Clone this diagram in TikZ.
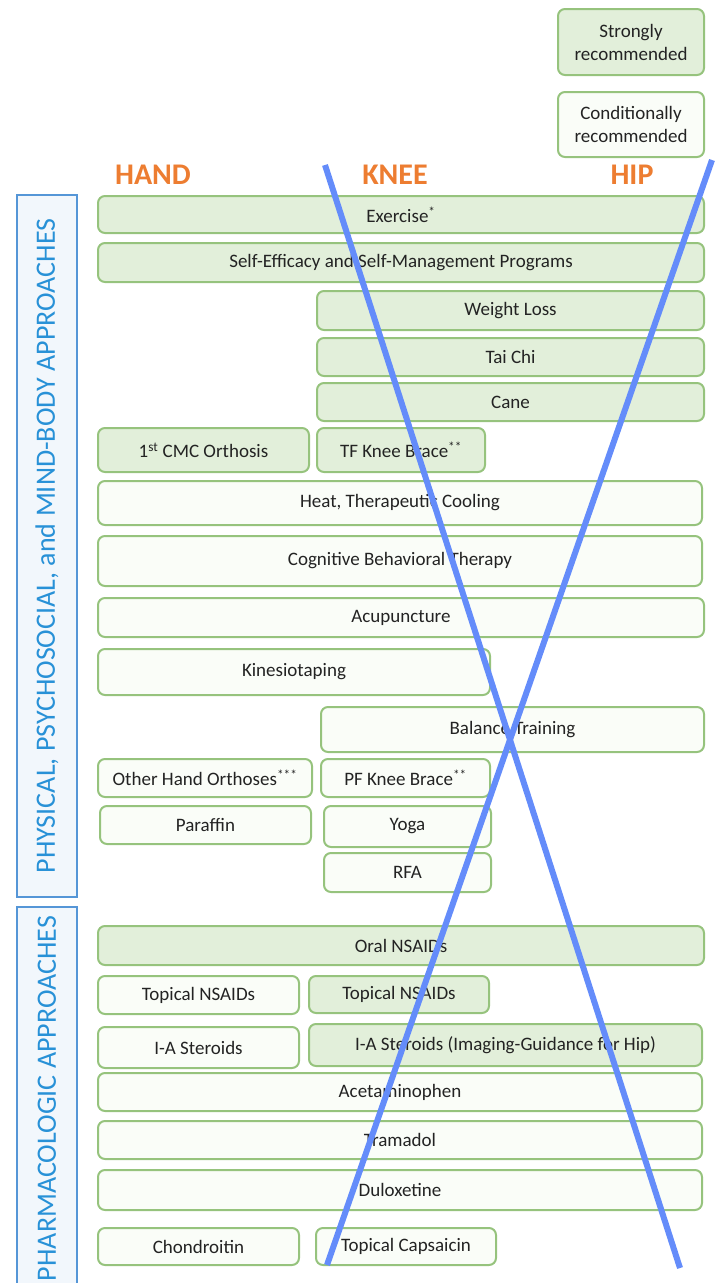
\documentclass[tikz,border=0pt]{standalone}
\usepackage{fontspec}
\setmainfont{Carlito}
\usepackage{tikz}
\definecolor{strongfill}{RGB}{226,239,218}
\definecolor{condfill}{RGB}{250,253,248}
\definecolor{boxline}{RGB}{150,195,125}
\definecolor{jointorange}{RGB}{237,125,49}
\definecolor{sideblue}{RGB}{85,150,215}
\definecolor{sidetext}{RGB}{40,145,215}
\definecolor{sidefill}{RGB}{242,247,252}
\definecolor{crossblue}{RGB}{100,140,250}
\definecolor{labelgray}{RGB}{35,35,35}

\begin{document}
\begin{tikzpicture}[x=1pt, y=-1pt,
    recbox/.style={draw=boxline, line width=2pt, rounded corners=7pt,
        inner sep=0pt, text=labelgray, align=center,
        font=\fontsize{19}{23}\selectfont},
    strongbox/.style={recbox, fill=strongfill},
    condbox/.style={recbox, fill=condfill},
    joint/.style={text=jointorange, font=\fontsize{30}{32}\selectfont\bfseries},
    sidebox/.style={draw=sideblue, fill=sidefill, line width=2pt, rotate=90,
        inner sep=0pt, text=sidetext, font=\fontsize{28}{30}\selectfont}]
    \useasboundingbox (0,0) rectangle (716,1283);
    \clip (0,0) rectangle (716,1283);

    % Legend
    \node[strongbox, minimum width=146pt, minimum height=66pt] (legstrong)
        at (631,42) {Strongly\\recommended};
    \node[condbox, minimum width=146pt, minimum height=65pt] (legcond)
        at (631,124.5) {Conditionally\\recommended};

    % Joints
    \node[joint] (hand) at (153,175) {HAND};
    \node[joint] (knee) at (395,175) {KNEE};
    \node[joint] (hip)  at (632,175) {HIP};

    % Side bands
    \node[sidebox, minimum width=702pt, minimum height=60pt] (physical)
        at (47,546) {PHYSICAL, PSYCHOSOCIAL, and MIND-BODY APPROACHES};
    \node[sidebox, minimum width=383pt, minimum height=60pt] (pharma)
        at (47,1098.5) {PHARMACOLOGIC APPROACHES};

    % Physical, psychosocial and mind-body
    \node[strongbox, minimum width=606pt, minimum height=37pt] (exercise)
        at (401,214.5) {Exercise\textsuperscript{*}};
    \node[strongbox, minimum width=606pt, minimum height=39pt] (selfeff)
        at (401,262.5) {Self-Efficacy and Self-Management Programs};
    \node[strongbox, minimum width=387pt, minimum height=39pt] (weight)
        at (510.5,310.5) {Weight Loss};
    \node[strongbox, minimum width=387pt, minimum height=38pt] (taichi)
        at (510.5,357) {Tai Chi};
    \node[strongbox, minimum width=387pt, minimum height=38pt] (cane)
        at (510.5,402) {Cane};
    \node[strongbox, minimum width=211pt, minimum height=44pt] (cmc)
        at (203.5,450) {1\textsuperscript{st} CMC Orthosis};
    \node[strongbox, minimum width=168pt, minimum height=44pt] (tfbrace)
        at (401,450) {TF Knee Brace\textsuperscript{**}};
    \node[condbox, minimum width=604pt, minimum height=44pt] (heat)
        at (400,503) {Heat, Therapeutic Cooling};
    \node[condbox, minimum width=604pt, minimum height=50pt] (cbt)
        at (400,561) {Cognitive Behavioral Therapy};
    \node[condbox, minimum width=606pt, minimum height=39pt] (acupuncture)
        at (401,617.5) {Acupuncture};
    \node[condbox, minimum width=392pt, minimum height=46pt] (kinesio)
        at (294,672) {Kinesiotaping};
    \node[condbox, minimum width=383pt, minimum height=45pt] (balance)
        at (512.5,729.5) {Balance Training};
    \node[condbox, minimum width=214pt, minimum height=38pt] (orthoses)
        at (205,778) {Other Hand Orthoses\textsuperscript{***}};
    \node[condbox, minimum width=169pt, minimum height=38pt] (pfbrace)
        at (405.5,778) {PF Knee Brace\textsuperscript{**}};
    \node[condbox, minimum width=211pt, minimum height=38pt] (paraffin)
        at (205.5,825) {Paraffin};
    \node[condbox, minimum width=167pt, minimum height=41pt] (yoga)
        at (407.5,826.5) {Yoga};
    \node[condbox, minimum width=167pt, minimum height=39pt] (rfa)
        at (407.5,872.5) {RFA};

    % Pharmacologic
    \node[strongbox, minimum width=606pt, minimum height=39pt] (oralnsaids)
        at (401,945.5) {Oral NSAIDs};
    \node[condbox, minimum width=201pt, minimum height=38pt] (topicalhand)
        at (198.5,995) {Topical NSAIDs};
    \node[strongbox, minimum width=180pt, minimum height=37pt] (topicalknee)
        at (399,994.5) {Topical NSAIDs};
    \node[condbox, minimum width=201pt, minimum height=41pt] (steroidhand)
        at (198.5,1047.5) {I-A Steroids};
    \node[strongbox, minimum width=393pt, minimum height=42pt] (steroidhip)
        at (505.5,1045) {I-A Steroids (Imaging-Guidance for Hip)};
    \node[condbox, minimum width=604pt, minimum height=38pt] (acetaminophen)
        at (400,1092) {Acetaminophen};
    \node[condbox, minimum width=604pt, minimum height=38pt] (tramadol)
        at (400,1140) {Tramadol};
    \node[condbox, minimum width=604pt, minimum height=40pt] (duloxetine)
        at (400,1190) {Duloxetine};
    \node[condbox, minimum width=201pt, minimum height=37pt] (chondroitin)
        at (198.5,1246.5) {Chondroitin};
    \node[condbox, minimum width=180pt, minimum height=37pt] (capsaicin)
        at (406,1246.5) {Topical Capsaicin};

    % Cross-out over knee and hip
    \draw[crossblue, line width=6pt] (325,165) -- (680,1268);
    \draw[crossblue, line width=6pt] (712,160) -- (327,1265);
\end{tikzpicture}
\end{document}
